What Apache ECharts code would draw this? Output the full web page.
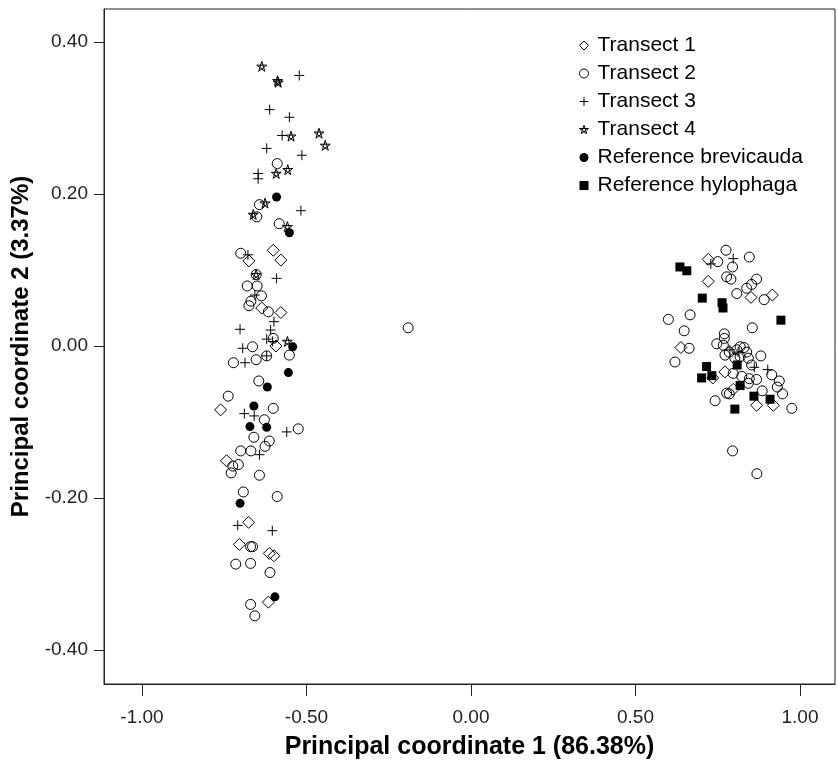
<!DOCTYPE html>
<html>
<head>
<meta charset="utf-8">
<script src="https://cdn.jsdelivr.net/npm/echarts@6/dist/echarts.min.js"></script>
<style>
  html, body { margin: 0; padding: 0; background: #fff; }
  #chart { width: 838px; height: 766px; }
</style>
</head>
<body>
<div id="chart"></div>
<script>
// PCoA scores: [coord 1, coord 2]
const transect1 = [
  [-0.675, 0.112], [-0.601, 0.126], [-0.578, 0.113], [-0.636, 0.050], [-0.578, 0.044],
  [-0.593, 0.000], [-0.761, -0.084], [-0.743, -0.151], [-0.676, -0.232], [-0.704, -0.261],
  [-0.613, -0.273], [-0.599, -0.276], [-0.616, -0.337],
  [0.721, 0.114], [0.721, 0.085], [0.851, 0.064], [0.916, 0.067], [0.638, -0.002],
  [0.772, -0.034], [0.735, -0.042], [0.797, -0.057], [0.868, -0.078], [0.919, -0.078]
];
const transect2 = [
  [-0.589, 0.240], [-0.643, 0.186], [-0.651, 0.170], [-0.583, 0.161], [-0.700, 0.122],
  [-0.653, 0.094], [-0.680, 0.079], [-0.650, 0.079], [-0.637, 0.066], [-0.669, 0.059],
  [-0.675, 0.053], [-0.616, 0.045], [-0.601, 0.010], [-0.664, -0.001], [-0.552, -0.012],
  [-0.722, -0.022], [-0.653, -0.018], [-0.621, -0.013], [-0.645, -0.046], [-0.738, -0.066],
  [-0.601, -0.082], [-0.628, -0.097], [-0.525, -0.109], [-0.660, -0.120], [-0.613, -0.125],
  [-0.626, -0.132], [-0.700, -0.138], [-0.669, -0.138], [-0.707, -0.156], [-0.724, -0.158],
  [-0.729, -0.167], [-0.643, -0.170], [-0.692, -0.192], [-0.589, -0.198], [-0.670, -0.264],
  [-0.664, -0.264], [-0.715, -0.287], [-0.670, -0.286], [-0.611, -0.298], [-0.670, -0.340],
  [-0.657, -0.355],
  [-0.191, 0.024],
  [0.775, 0.126], [0.846, 0.117], [0.750, 0.111], [0.795, 0.104], [0.777, 0.091],
  [0.790, 0.088], [0.868, 0.088], [0.853, 0.081], [0.838, 0.076], [0.808, 0.069],
  [0.891, 0.061], [0.600, 0.035], [0.666, 0.041], [0.648, 0.020], [0.855, 0.024],
  [0.663, -0.003], [0.620, -0.021], [0.770, 0.016], [0.770, 0.010], [0.747, 0.003],
  [0.767, 0.001], [0.818, -0.001], [0.830, -0.002], [0.808, -0.005], [0.785, -0.008],
  [0.838, -0.008], [0.772, -0.012], [0.818, -0.014], [0.802, -0.016], [0.843, -0.016],
  [0.881, -0.013], [0.853, -0.025], [0.797, -0.036], [0.823, -0.040], [0.846, -0.043],
  [0.868, -0.044], [0.914, -0.038], [0.937, -0.046], [0.843, -0.049], [0.885, -0.059],
  [0.931, -0.054], [0.777, -0.062], [0.785, -0.063], [0.947, -0.063], [0.742, -0.072],
  [0.975, -0.082], [0.795, -0.138], [0.869, -0.168]
];
const transect3 = [
  [-0.522, 0.356], [-0.612, 0.311], [-0.552, 0.301], [-0.574, 0.277], [-0.621, 0.260],
  [-0.514, 0.251], [-0.647, 0.227], [-0.647, 0.220], [-0.517, 0.178], [-0.678, 0.120],
  [-0.591, 0.089], [-0.657, 0.067], [-0.702, 0.022], [-0.599, 0.032], [-0.609, 0.021],
  [-0.621, 0.009], [-0.694, -0.003], [-0.603, 0.006], [-0.687, -0.022], [-0.621, -0.013],
  [-0.689, -0.089], [-0.659, -0.092], [-0.560, -0.113], [-0.643, -0.143], [-0.709, -0.236],
  [-0.604, -0.243],
  [0.797, 0.115], [0.729, 0.108], [0.861, -0.028], [0.902, -0.031], [0.787, -0.005],
  [0.812, -0.008]
];
const transect4 = [
  [-0.636, 0.368], [-0.588, 0.349], [-0.586, 0.347], [-0.547, 0.276], [-0.462, 0.280],
  [-0.443, 0.264], [-0.592, 0.227], [-0.557, 0.232], [-0.626, 0.188], [-0.662, 0.173],
  [-0.558, 0.157], [-0.653, 0.094], [-0.558, 0.006]
];
const refBrevicauda = [
  [-0.591, 0.196], [-0.552, 0.149], [-0.542, -0.001], [-0.555, -0.035], [-0.619, -0.054],
  [-0.660, -0.079], [-0.672, -0.106], [-0.621, -0.107], [-0.702, -0.207], [-0.596, -0.330]
];
const refHylophaga = [
  [0.635, 0.104], [0.656, 0.099], [0.703, 0.063], [0.763, 0.057], [0.766, 0.050],
  [0.942, 0.034], [0.809, -0.025], [0.716, -0.027], [0.701, -0.042], [0.732, -0.039],
  [0.818, -0.052], [0.860, -0.066], [0.909, -0.070], [0.802, -0.083]
];
const xTicks = [-1, -0.5, 0, 0.5, 1];
const yTicks = [-0.4, -0.2, 0, 0.2, 0.4];

const FONT = '"Liberation Sans", Arial, sans-serif';
const PLUS = 'path://M5 0L5 10M0 5L10 5';
const STAR = 'path://M50 0L79.39 90.45L2.45 34.55L97.55 34.55L20.61 90.45Z';
const OUTLINE = { color: 'transparent', borderColor: '#000', borderWidth: 1 };

function hollow(name, data, symbol, size) {
  return {
    name, type: 'scatter', data, symbol, symbolSize: size,
    itemStyle: { ...OUTLINE, opacity: 1 },
    emphasis: { disabled: true }
  };
}
function solid(name, data, symbol, size) {
  return {
    name, type: 'scatter', data, symbol, symbolSize: size,
    itemStyle: { color: '#000', borderWidth: 0, opacity: 1 },
    emphasis: { disabled: true }
  };
}

const chart = echarts.init(document.getElementById('chart'));
chart.setOption({
  animation: false,
  textStyle: { fontFamily: FONT },
  grid: {
    left: 104, right: 3, top: 9, bottom: 82,
    show: true, borderColor: '#222', borderWidth: 1
  },
  legend: {
    orient: 'vertical',
    left: 574, top: 30,
    itemWidth: 9, itemHeight: 9, itemGap: 7,
    textStyle: { fontSize: 21, color: '#000', fontFamily: FONT, lineHeight: 21, padding: [0, 0, 0, 4] },
    data: [
      { name: 'Transect 1', itemStyle: OUTLINE },
      { name: 'Transect 2', itemStyle: OUTLINE },
      { name: 'Transect 3', itemStyle: OUTLINE },
      { name: 'Transect 4', itemStyle: OUTLINE },
      'Reference brevicauda', 'Reference hylophaga'
    ]
  },
  xAxis: {
    type: 'value', min: -1.1155, max: 1.1064,
    name: 'Principal coordinate 1 (86.38%)',
    nameLocation: 'middle', nameGap: 51,
    nameTextStyle: { fontSize: 25, fontWeight: 'bold', color: '#000', fontFamily: FONT },
    axisLine: { show: true, onZero: false, lineStyle: { color: '#222', width: 1 } },
    axisTick: { show: true, length: 12, customValues: xTicks, lineStyle: { color: '#222' } },
    axisLabel: {
      customValues: xTicks, margin: 24, fontSize: 19, color: '#222', fontFamily: FONT,
      formatter: v => v.toFixed(2)
    },
    splitLine: { show: false }
  },
  yAxis: {
    type: 'value', min: -0.4447, max: 0.4434,
    name: 'Principal coordinate 2 (3.37%)',
    nameLocation: 'middle', nameGap: 70,
    nameTextStyle: { fontSize: 24, fontWeight: 'bold', color: '#000', fontFamily: FONT },
    axisLine: { show: true, onZero: false, lineStyle: { color: '#222', width: 1 } },
    axisTick: { show: true, length: 10, customValues: yTicks, lineStyle: { color: '#222' } },
    axisLabel: {
      customValues: yTicks, margin: 16, fontSize: 19, color: '#222', fontFamily: FONT,
      formatter: v => v.toFixed(2)
    },
    splitLine: { show: false }
  },
  series: [
    hollow('Transect 1', transect1, 'diamond', 12),
    hollow('Transect 2', transect2, 'circle', 10),
    hollow('Transect 3', transect3, PLUS, 10),
    hollow('Transect 4', transect4, STAR, 10),
    solid('Reference brevicauda', refBrevicauda, 'circle', 9),
    solid('Reference hylophaga', refHylophaga, 'rect', 9)
  ]
});
</script>
</body>
</html>
